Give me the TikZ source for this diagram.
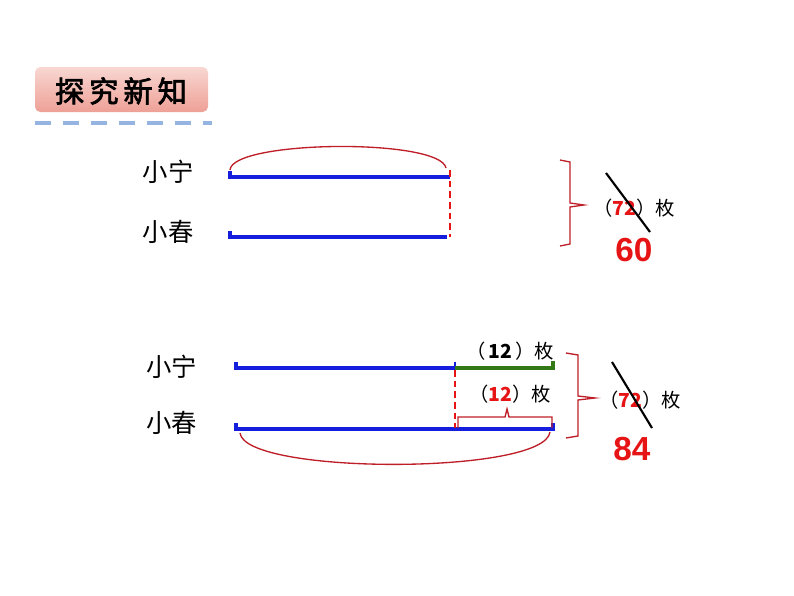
\documentclass[tikz,border=0pt]{standalone}
\usepackage{fontspec}
\setmainfont{Liberation Sans}
\newfontfamily\cjk{Noto Sans CJK SC}
\newfontfamily\cjkb{Noto Sans CJK SC}[FakeBold=2.5]
\usetikzlibrary{positioning}
\definecolor{barblue}{RGB}{20,30,220}
\definecolor{braced}{RGB}{190,30,40}
\definecolor{numred}{RGB}{230,20,20}
\definecolor{segreen}{RGB}{50,120,20}
\definecolor{dashblue}{RGB}{150,180,225}
\definecolor{tagtop}{RGB}{248,215,210}
\definecolor{tagbot}{RGB}{238,160,150}
\tikzstyle{bar}=[draw=barblue,line width=2.4pt]
\tikzstyle{cut}=[draw=numred,line width=2pt,dash pattern=on 5pt off 3pt]
\tikzstyle{brc}=[draw=braced,line width=1pt]
\tikzstyle{who}=[font=\cjk\fontsize{19}{19}\selectfont]
\tikzstyle{qty}=[font=\cjk\fontsize{14.5}{14.5}\selectfont]
\tikzstyle{big}=[font=\bfseries\fontsize{25}{25}\selectfont,text=numred]
\begin{document}
\begin{tikzpicture}[x=0.75pt,y=-0.75pt]
        \useasboundingbox (0,0) rectangle (794,596);
        % title
        \shade[top color=tagtop,bottom color=tagbot,rounded corners=4pt] (35,112) -- (35,67) -- (208,67) -- (208,112) -- cycle;
        \node (title) at (121,91) {\cjkb\fontsize{22}{22}\selectfont 探\,究\,新\,知};
        \draw[dashblue,line width=2.5pt,dash pattern=on 12pt off 9pt] (35,123) -- (212,123);
        % upper diagram
        \node[who] (ning1) at (168,172) {小宁};
        \node[who] (chun1) at (168,232) {小春};
        \coordinate (a1) at (230,177); \coordinate (b1) at (450,177);
        \coordinate (c1) at (230,237); \coordinate (d1) at (447,237);
        \draw[bar] (230,171) -- (a1) -- (b1);
        \draw[bar] (230,231) -- (c1) -- (d1);
        \draw[cut] (450,170) -- (450,237);
        \draw[brc] (230,170) .. controls (232,140) and (440,138) .. (446,168);
        \draw[brc] (560,160) -- (570,162) -- (570,203) -- (584,205) -- (570,207) -- (570,244) -- (560,246);
        \node[qty] (tot1) at (634,208) {（\textcolor{numred}{\bfseries 72}）枚};
        \draw[line width=1.6pt] (606,173) -- (650,232);
        \node[big] (n60) at (634,250) {60};
        % lower diagram
        \node[who] (ning2) at (172,367) {小宁};
        \node[who] (chun2) at (172,423) {小春};
        \draw[bar] (236,362) -- (236,368) -- (455,368);
        \draw[barblue,line width=1pt] (455,362) -- (455,368);
        \draw[segreen,line width=2.4pt] (455,368) -- (553,368) -- (553,361);
        \draw[bar] (236,423) -- (236,429) -- (553,429) -- (553,423);
        \draw[cut] (455,370) -- (455,428);
        \draw[brc] (458,428) -- (458,417) -- (505,417) -- (507,409) -- (509,417) -- (552,417) -- (552,428);
        \node[qty] (diff1) at (510,351) {（\,\textbf{12}\,）枚};
        \node[qty] (diff2) at (510,394) {（\textcolor{numred}{\bfseries 12}）枚};
        \draw[brc] (240,433) .. controls (245,475) and (545,475) .. (550,432);
        \draw[brc] (566,353) -- (578,355) -- (578,396) -- (595,398) -- (578,400) -- (578,436) -- (566,438);
        \node[qty] (tot2) at (640,400) {（\textcolor{numred}{\bfseries 72}）枚};
        \draw[line width=1.6pt] (612,362) -- (652,428);
        \node[big] (n84) at (632,449) {84};
\end{tikzpicture}
\end{document}
